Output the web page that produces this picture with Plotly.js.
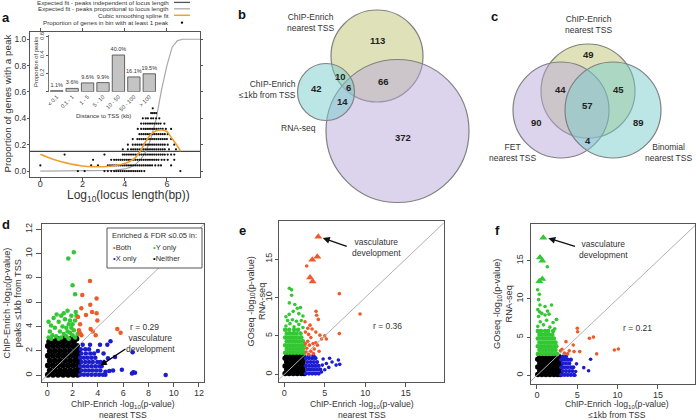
<!DOCTYPE html>
<html><head><meta charset="utf-8">
<script src="https://cdn.plot.ly/plotly-3.0.1.min.js"></script>
<style>html,body{margin:0;padding:0;background:#fff;}#chart{width:696px;height:420px;}</style>
</head><body><div id="chart"></div>
<script>
// ---------------- DATA ----------------
// Panel a: expected fits and spline
const aGrayX = [0, 1, 2, 3, 3.5, 4, 4.25, 4.5, 4.75, 5, 5.25, 5.5, 5.75, 6, 6.25, 6.5, 6.75, 7.6];
const aGrayY = [0, 0, 0, 0.002, 0.005, 0.016, 0.028, 0.049, 0.086, 0.146, 0.25, 0.4, 0.62, 0.8, 0.94, 0.99, 1.0, 1.0];
const aFlatY = 0.15;
const aOrangeX = [0, 0.5, 1, 1.5, 2, 2.5, 3, 3.5, 4, 4.25, 4.5, 4.75, 5, 5.25, 5.5, 5.75, 6, 6.25, 6.5, 6.65];
const aOrangeY = [0.127, 0.095, 0.07, 0.052, 0.038, 0.033, 0.033, 0.04, 0.058, 0.075, 0.1, 0.155, 0.225, 0.28, 0.305, 0.312, 0.3, 0.245, 0.19, 0.15];
// Panel a: proportion of genes in bin with >=1 peak (rows of bins)
const aRowY = [0, 0.043, 0.085, 0.125, 0.165, 0.2, 0.243, 0.28, 0.32, 0.36, 0.4, 0.44, 0.476];
const aRowX = [
 [1.78, 2.1, 3.04, 3.2, 3.36, 3.5, 3.6, 3.7, 3.8, 3.9, 4.0, 4.1, 4.2, 4.3, 4.4, 4.5, 4.6, 4.7, 4.8, 4.93, 6.64],
 [0, 2.41, 2.73, 3.2, 3.3, 3.4, 3.5, 3.6, 3.7, 3.8, 3.9, 4.0, 4.1, 4.2, 4.3, 4.4, 4.5, 4.6, 4.7, 4.8, 4.9, 5.0, 5.1, 5.2, 5.3, 5.45, 5.6, 5.72, 6.2],
 [2.5, 3.36, 3.5, 3.6, 3.7, 3.8, 3.9, 4.0, 4.1, 4.2, 4.3, 4.4, 4.5, 4.6, 4.7, 4.8, 4.9, 5.0, 5.1, 5.2, 5.3, 5.4, 5.5, 5.6, 5.75, 5.88, 6.04, 6.35],
 [1.15, 3.04, 3.91, 4.0, 4.1, 4.2, 4.3, 4.4, 4.5, 4.6, 4.7, 4.8, 4.9, 5.0, 5.1, 5.2, 5.3, 5.4, 5.5, 5.6, 5.7, 5.8, 5.9, 6.04, 6.2, 6.35],
 [3.91, 4.15, 4.3, 4.4, 4.5, 4.6, 4.7, 4.8, 4.9, 5.0, 5.1, 5.2, 5.3, 5.4, 5.5, 5.6, 5.7, 5.8, 5.9, 6.1, 6.43],
 [4.15, 4.38, 4.5, 4.6, 4.7, 4.8, 4.9, 5.0, 5.1, 5.2, 5.3, 5.4, 5.5, 5.6, 5.7, 5.8, 5.9, 6.04, 6.35],
 [4.38, 4.6, 4.7, 4.8, 4.9, 5.0, 5.1, 5.2, 5.3, 5.4, 5.5, 5.6, 5.7, 5.8, 5.9, 6.0, 6.2],
 [4.7, 4.8, 4.9, 5.0, 5.1, 5.2, 5.3, 5.4, 5.5, 5.6, 5.7, 5.8, 5.9, 6.04],
 [4.62, 4.78, 4.9, 5.0, 5.1, 5.2, 5.3, 5.4, 5.5, 5.6, 5.7, 5.8, 5.95, 6.2],
 [4.78, 4.9, 5.0, 5.1, 5.2, 5.3, 5.4, 5.5, 5.6, 5.7, 5.88],
 [4.86, 5.0, 5.1, 5.25, 5.35, 5.49, 5.64],
 [5.25, 5.33, 5.41, 5.49],
 [5.33]
];
// Panel a inset
const insetCats = ["< 0.1", "0.1 - 1", "1 - 5", "5 - 10", "10 - 50", "50 - 100", "> 100"];
const insetVals = [0.011, 0.036, 0.096, 0.099, 0.400, 0.161, 0.195];
const insetLabels = ["1.1%", "3.6%", "9.6%", "9.9%", "40.0%", "16.1%", "19.5%"];

// Panel b Venn (layout units)
const vennBNames = ["ChIP-Enrich nearest TSS", "RNA-seq", "ChIP-Enrich ≤1kb from TSS"];
const vennBcx = [377, 397.5, 326];
const vennBcy = [56, 131, 92];
const vennBr = [46, 71.5, 28.5];
const vennBCounts = ["113", "66", "10", "6", "42", "14", "372"];
const vennBCx = [377, 383, 340, 348, 316, 342, 403];
const vennBCy = [40, 81, 76, 87, 88, 101, 137];
// Panel c Venn
const vennCNames = ["ChIP-Enrich nearest TSS", "FET nearest TSS", "Binomial nearest TSS"];
const vennCcx = [588, 561, 613];
const vennCcy = [91, 110, 110];
const vennCr = [47, 48, 48];
const vennCCounts = ["49", "44", "45", "57", "90", "89", "4"];
const vennCCx = [588, 560, 618, 587, 536, 638, 588];
const vennCCy = [54, 89, 89, 105, 122, 122, 140];

// Panel d: x = nearest TSS, y = peaks <=1kb
const dBlackRowY = [0.05, 0.4, 0.8, 1.2, 1.6, 2.0, 2.4, 2.75, 3.0];
const dBlackRowX = [
 [0.05, 0.45, 0.85, 1.25, 1.65, 2.05, 2.4],
 [0.2, 0.6, 1.0, 1.4, 1.8, 2.2, 2.5],
 [0.05, 0.45, 0.85, 1.25, 1.65, 2.05, 2.45],
 [0.2, 0.6, 1.0, 1.4, 1.8, 2.2, 2.5],
 [0.05, 0.45, 0.85, 1.25, 1.65, 2.05, 2.4],
 [0.2, 0.6, 1.0, 1.4, 1.8, 2.2, 2.45],
 [0.05, 0.45, 0.85, 1.25, 1.65, 2.05, 2.35],
 [0.15, 0.5, 0.9, 1.3, 1.7, 2.1],
 [0.8, 1.3, 1.9, 2.3]
];
const dBlueRowY = [0.05, 0.4, 0.75, 1.1, 1.45, 1.8, 2.15, 2.5];
const dBlueRowX = [
 [2.6, 2.9, 3.2, 3.5, 3.8, 4.1, 4.4, 4.6],
 [2.7, 3.0, 3.3, 3.6, 3.9, 4.2],
 [2.6, 2.9, 3.2, 3.5, 3.8, 4.1, 4.3],
 [2.7, 3.0, 3.3, 3.6, 3.95, 4.2],
 [2.6, 2.9, 3.2, 3.5, 3.8],
 [2.7, 3.05, 3.4, 3.7, 4.45],
 [2.65, 3.0, 3.3],
 [2.8, 3.38, 4.17]
];
const dBlueOut = [[4.75,2.5],[5.0,2.8],[5.36,1.5],[4.49,1.07],[4.9,0.35],[5.2,0.4],[5.9,0.45],[6.7,0.15],[6.8,0.25],[6.94,0.2],[6.75,1.9],[9.37,0.03],[4.6,0.3],[4.8,1.4],[4.0,2.0]];
const dGreen = [[1.66,9.6],[2.1,10.1],[2.0,7.4],[2.2,6.65],[0.74,5.0],[1.1,4.9],[1.9,4.9],[2.3,4.9],[0.1,4.4],[0.1,3.1],[0.2,3.6],[0.3,4.1],[0.4,3.3],[0.6,3.9],[0.7,3.2],[0.9,4.4],[1.0,3.6],[1.1,3.1],[1.2,4.0],[1.3,3.4],[1.4,4.6],[1.5,3.9],[1.5,3.2],[1.6,3.6],[1.7,4.2],[1.7,3.0],[1.8,4.5],[1.8,3.5],[1.9,3.9],[2.0,3.3],[2.0,4.2],[2.1,3.7],[2.2,3.1],[2.2,4.5],[1.6,5.3],[2.25,5.2],[0.5,4.7],[1.3,5.1],[0.9,3.0],[2.4,3.4],[0.3,3.0]];
const dRed = [[3.38,7.75],[2.77,6.6],[3.9,6.3],[3.4,5.8],[2.69,5.5],[2.43,4.8],[3.06,4.95],[3.54,5.2],[3.9,5.1],[3.96,4.5],[2.59,4.2],[2.5,3.7],[2.59,3.45],[3.43,3.8],[3.6,3.6],[3.83,3.3],[5.54,3.8],[5.8,3.5],[2.7,3.3]];

// Panel e: x = nearest TSS, y = RNA-seq
const eBlackRowY = [0.1, 0.6, 1.1, 1.6, 2.1, 2.45];
const eBlackRowX = [
 [0.1, 0.6, 1.1, 1.6, 2.1, 2.45],
 [0.3, 0.8, 1.3, 1.8, 2.3],
 [0.1, 0.6, 1.1, 1.6, 2.1, 2.45],
 [0.3, 0.8, 1.3, 1.8, 2.3],
 [0.1, 0.6, 1.1, 1.6, 2.1, 2.45],
 [0.3, 0.8, 1.3, 1.8, 2.3]
];
const eGreenRowY = [2.8, 3.3, 3.8, 4.3, 4.8, 5.3, 5.8];
const eGreenRowX = [
 [0.1, 0.5, 0.9, 1.3, 1.7, 2.1, 2.45],
 [0.3, 0.7, 1.1, 1.5, 1.9, 2.3],
 [0.1, 0.5, 0.9, 1.3, 1.7, 2.1, 2.45],
 [0.3, 0.7, 1.1, 1.5, 1.9, 2.3],
 [0.1, 0.5, 0.9, 1.3, 1.7, 2.1],
 [0.3, 0.7, 1.1, 1.5, 2.0],
 [0.1, 0.6, 1.2, 1.7]
];
const eGreenOut = [[0.2,6.3],[0.7,6.6],[1.2,6.2],[1.8,6.5],[2.3,6.1],[0.4,7.0],[1.0,7.1],[1.5,6.9],[2.1,7.0],[0.62,11.2],[0.9,11.0],[0.9,10.3],[0.62,9.3],[1.3,9.1],[1.6,8.6],[2.0,8.7],[1.1,8.2],[0.6,7.8],[1.8,7.9],[2.3,7.6],[0.2,7.5]];
const eBlueRowY = [0.1, 0.6, 1.1, 1.6, 2.1, 2.45];
const eBlueRowX = [
 [2.65, 3.05, 3.45, 3.85, 4.25],
 [2.85, 3.25, 3.65, 4.05, 4.45],
 [2.65, 3.05, 3.45, 3.85, 4.25],
 [2.85, 3.25, 3.65, 4.05],
 [2.65, 3.05, 3.45, 3.85],
 [3.0, 3.6]
];
const eBlueOut = [[6.68,1.86],[6.85,1.3],[6.4,1.2],[5.9,1.6],[5.6,2.1],[5.2,1.4],[4.8,2.0],[4.7,1.2],[5.0,0.6],[4.6,0.3],[5.5,0.9]];
const eRed = [[2.77,14.1],[6.8,10.5],[9.36,7.85],[6.8,5.3],[3.92,8.2],[4.0,7.7],[4.2,7.15],[2.56,6.85],[3.18,6.4],[3.43,5.9],[3.9,5.5],[4.4,5.1],[4.6,4.6],[3.28,4.8],[2.9,4.3],[3.55,4.0],[3.9,4.1],[2.77,3.4],[3.28,3.0],[3.7,3.3],[3.1,3.8],[2.7,2.9],[3.6,2.7],[4.1,3.8],[5.0,5.0],[5.2,4.6],[2.6,5.5],[3.0,5.2],[2.6,4.0],[4.3,3.0],[3.0,2.6],[2.9,6.0]];
const eRedTri = [[4.2,17.9],[4.08,15.3],[3.46,14.9],[3.18,12.6],[3.5,12.1]];

// Panel f: x = <=1kb, y = RNA-seq
const fBlackRowY = [0.1, 0.6, 1.1, 1.6, 2.1, 2.45];
const fBlackRowX = [
 [0.1, 0.6, 1.1, 1.6, 2.1, 2.55, 2.9],
 [0.35, 0.85, 1.35, 1.85, 2.35, 2.8],
 [0.1, 0.6, 1.1, 1.6, 2.1, 2.55, 2.9],
 [0.35, 0.85, 1.35, 1.85, 2.35, 2.8],
 [0.1, 0.6, 1.1, 1.6, 2.1, 2.55, 2.9],
 [0.35, 0.85, 1.35, 1.85, 2.35, 2.7]
];
const fGreenRowY = [2.8, 3.3, 3.8, 4.3, 4.8, 5.3, 5.8];
const fGreenRowX = [
 [0.1, 0.5, 0.9, 1.3, 1.7, 2.1, 2.5],
 [0.3, 0.7, 1.1, 1.5, 1.9, 2.3],
 [0.1, 0.5, 0.9, 1.3, 1.7, 2.1, 2.4],
 [0.3, 0.7, 1.1, 1.5, 1.9, 2.3],
 [0.1, 0.5, 0.9, 1.3, 1.7, 2.1],
 [0.3, 0.7, 1.1, 1.5, 1.9],
 [0.1, 0.5, 1.0, 1.4, 2.0]
];
const fGreenOut = [[0.1,6.4],[0.4,7.0],[0.8,6.6],[1.2,7.2],[1.6,6.3],[2.0,6.9],[0.2,7.7],[0.6,8.1],[1.0,7.9],[1.5,8.0],[2.4,7.3],[0.3,8.3],[2.2,6.1],[1.28,14.2],[0.08,11.2],[0.29,10.6],[0.2,9.9],[0.37,9.2],[1.8,9.2],[1.0,9.0],[2.44,7.3],[0.1,8.6],[1.3,8.4]];
const fGreenTri = [[0.78,18.0],[0.37,15.4],[0.66,15.0],[0.29,12.3],[0.66,12.6]];
const fBlueRowY = [0.05, 0.55, 1.05, 1.55, 2.05, 2.45];
const fBlueRowX = [
 [3.0, 3.4, 3.8, 4.2, 4.6],
 [3.2, 3.6, 4.0, 4.4],
 [3.0, 3.4, 3.8, 4.2, 4.5],
 [3.2, 3.6, 4.0],
 [3.0, 3.4, 3.8, 4.2],
 [3.2, 3.6]
];
const fBlueOut = [[6.65,2.1],[5.8,1.0],[6.4,0.6],[4.7,0.0],[4.8,0.5],[4.9,1.5]];
const fRed = [[5.0,6.15],[5.04,5.7],[6.5,4.85],[7.0,5.0],[4.5,3.97],[3.6,4.4],[3.1,3.4],[4.0,3.2],[4.6,3.1],[5.3,3.1],[7.4,2.8],[9.6,3.3],[10.1,3.45],[3.4,2.9],[2.9,3.2],[3.8,2.8]];

const diagXY = [-2, 25];

// ---------------- DRAW ----------------
const W = 696, H = 420;
const FONT = 'Liberation Sans, Arial, Helvetica, sans-serif';
const TXT = '#333';
const redC = '#ef5a28', greenC = '#33c733', blueC = '#1c1ccf';
function dx(l, r) { return [l / W, r / W]; }
function dy(t, b) { return [1 - b / H, 1 - t / H]; }
function flat(rowsY, rowsX) { const x = [], y = []; rowsY.forEach((yy, i) => rowsX[i].forEach(xx => { x.push(xx); y.push(yy); })); return {x, y}; }
function pairs(p) { return {x: p.map(q => q[0]), y: p.map(q => q[1])}; }
function sc(d, ax, color, size, symbol) {
  return {type: 'scatter', mode: 'markers', x: d.x, y: d.y, xaxis: 'x' + ax, yaxis: 'y' + ax,
    marker: {color: color, size: size, symbol: symbol || 'circle', line: {width: 0}}, hoverinfo: 'skip'};
}
function diag(ax) { return {type: 'scatter', mode: 'lines', x: diagXY, y: diagXY, xaxis: 'x' + ax, yaxis: 'y' + ax, line: {color: '#b0b0b0', width: 1}, hoverinfo: 'skip'}; }

const traces = [];
// panel a
traces.push({type: 'scatter', mode: 'lines', x: aGrayX, y: aGrayY, xaxis: 'x', yaxis: 'y', line: {color: '#a8a8a8', width: 1.2}, hoverinfo: 'skip'});
traces.push(sc(flat(aRowY, aRowX), '', '#111', 2.2));
traces.push({type: 'scatter', mode: 'lines', x: aOrangeX, y: aOrangeY, xaxis: 'x', yaxis: 'y', line: {color: '#f0a030', width: 1.6, shape: 'spline'}, hoverinfo: 'skip'});
// inset
traces.push({type: 'bar', x: insetCats, y: insetVals, xaxis: 'x2', yaxis: 'y2', marker: {color: '#c4c4c4', line: {color: '#444', width: 0.8}},
  text: insetLabels, textposition: 'outside', constraintext: 'none', cliponaxis: false, textfont: {size: 5.5, color: TXT, family: FONT}, hoverinfo: 'skip'});
// panel d
traces.push(sc(flat(dBlackRowY, dBlackRowX), '4', '#000', 6));
traces.push(sc(flat(dBlueRowY, dBlueRowX), '4', blueC, 4.5));
traces.push(sc(pairs(dBlueOut), '4', blueC, 4.5));
traces.push(sc(pairs(dGreen), '4', greenC, 4.5));
traces.push(sc(pairs(dRed), '4', redC, 4.5));
traces.push(diag('4'));
// panel e
traces.push(sc(flat(eBlackRowY, eBlackRowX), '5', '#000', 5.5));
traces.push(sc(flat(eGreenRowY, eGreenRowX), '5', greenC, 4.5));
traces.push(sc(pairs(eGreenOut), '5', greenC, 3.6));
traces.push(sc(flat(eBlueRowY, eBlueRowX), '5', blueC, 4.2));
traces.push(sc(pairs(eBlueOut), '5', blueC, 3.6));
traces.push(sc(pairs(eRed), '5', redC, 3.6));
traces.push(sc(pairs(eRedTri), '5', redC, 7, 'triangle-up'));
traces.push(diag('5'));
// panel f
traces.push(sc(flat(fBlackRowY, fBlackRowX), '6', '#000', 5.5));
traces.push(sc(flat(fGreenRowY, fGreenRowX), '6', greenC, 4.5));
traces.push(sc(pairs(fGreenOut), '6', greenC, 3.6));
traces.push(sc(pairs(fGreenTri), '6', greenC, 7, 'triangle-up'));
traces.push(sc(flat(fBlueRowY, fBlueRowX), '6', blueC, 4.2));
traces.push(sc(pairs(fBlueOut), '6', blueC, 3.6));
traces.push(sc(pairs(fRed), '6', redC, 3.6));
traces.push(diag('6'));

// axes
const baseAx = {showgrid: false, zeroline: false, showline: true, mirror: true, linecolor: '#555', linewidth: 1,
  ticks: 'outside', ticklen: 4, tickcolor: '#555', tickfont: {family: FONT, size: 9, color: TXT}, fixedrange: true};
function ax(o) { return Object.assign({}, baseAx, o); }

const layout = {
  width: W, height: H, margin: {l: 0, r: 0, t: 0, b: 0}, showlegend: false,
  paper_bgcolor: '#fff', plot_bgcolor: 'rgba(0,0,0,0)', font: {family: FONT, color: TXT},
  xaxis: ax({domain: dx(30, 200), range: [-0.49, 7.57], anchor: 'y', tickvals: [0, 2, 4, 6], mirror: 'ticks', ticklen: 3, ticklabelstandoff: -5}),
  yaxis: ax({domain: dy(32, 177), range: [-0.045, 1.055], anchor: 'x', tickvals: [0, 0.2, 0.4, 0.6, 0.8, 1.0], tickformat: '.1f', mirror: 'ticks', ticklen: 2,
    ticklabelstandoff: -1, tickfont: {family: FONT, size: 8.5, color: TXT}}),
  xaxis2: {domain: dx(49, 157), anchor: 'y2', type: 'category', range: [-0.5, 6.5], showline: false, ticks: '', showgrid: false, zeroline: false,
    tickangle: -45, tickfont: {family: FONT, size: 5.5, color: TXT}, fixedrange: true},
  yaxis2: {domain: dy(35, 91.7), anchor: 'x2', range: [0, 0.618], tickvals: [0, 0.2, 0.4, 0.6], ticktext: ['', '0.2', '0.4', '0.6'],
    tickangle: -90, showline: true, linecolor: '#555', linewidth: 0.8, ticks: 'outside', ticklen: 2, tickcolor: '#555', showgrid: false, zeroline: false,
    tickfont: {family: FONT, size: 5.5, color: TXT}, fixedrange: true},
  xaxis3: {domain: dx(230, 696), range: [230, 696], anchor: 'y3', visible: false, fixedrange: true},
  yaxis3: {domain: dy(0, 205), range: [205, 0], anchor: 'x3', visible: false, fixedrange: true},
  xaxis4: ax({domain: dx(42, 204), range: [-0.42, 12.4], anchor: 'y4', tickvals: [0, 2, 4, 6, 8, 10, 12], ticklen: 4, ticklabelstandoff: -2}),
  yaxis4: ax({domain: dy(224, 382), range: [-0.55, 12.43], anchor: 'x4', tickvals: [0, 2, 4, 6, 8, 10, 12], tickangle: -90, ticklen: 5}),
  xaxis5: ax({domain: dx(279.3, 443.7), range: [-0.62, 19.7], anchor: 'y5', tickvals: [0, 5, 10, 15], ticklen: 4, ticklabelstandoff: -2}),
  yaxis5: ax({domain: dy(220.7, 381.7), range: [-0.96, 20.0], anchor: 'x5', tickvals: [0, 5, 10, 15], tickangle: -90, ticklen: 3}),
  xaxis6: ax({domain: dx(530.7, 695), range: [-0.78, 19.6], anchor: 'y6', tickvals: [0, 5, 10, 15], ticklen: 4, ticklabelstandoff: -2}),
  yaxis6: ax({domain: dy(224, 384), range: [-1.14, 19.8], anchor: 'x6', tickvals: [0, 5, 10, 15], tickangle: -90, ticklen: 3}),
  shapes: [], annotations: []
};

// panel a flat expected line
layout.shapes.push({type: 'line', xref: 'x domain', yref: 'y', x0: 0, x1: 1, y0: aFlatY, y1: aFlatY, line: {color: '#444', width: 1.3}, layer: 'below'});

// venn circles
const vennFill = {
  'ChIP-Enrich nearest TSS': 'rgba(191,197,115,0.5)',
  'RNA-seq': 'rgba(185,167,217,0.5)',
  'FET nearest TSS': 'rgba(185,167,217,0.5)',
  'ChIP-Enrich ≤1kb from TSS': 'rgba(121,205,205,0.5)',
  'Binomial nearest TSS': 'rgba(121,205,205,0.5)'
};
function venn(names, cx, cy, r) {
  names.forEach((n, i) => layout.shapes.push({type: 'circle', xref: 'x3', yref: 'y3', x0: cx[i] - r[i], x1: cx[i] + r[i], y0: cy[i] - r[i], y1: cy[i] + r[i],
    fillcolor: vennFill[n], line: {color: '#808080', width: 1.2}, layer: 'above'}));
}
venn(vennBNames, vennBcx, vennBcy, vennBr);
venn(vennCNames, vennCcx, vennCcy, vennCr);

function A(text, xp, yp, o) {
  const base = {text: text, x: xp / W, y: 1 - yp / H, xref: 'paper', yref: 'paper', showarrow: false, xanchor: 'center', yanchor: 'middle',
    font: {family: FONT, size: 9, color: TXT}};
  return Object.assign(base, o || {});
}
function F(size, extra) { return Object.assign({family: FONT, size: size, color: TXT}, extra || {}); }
const ann = layout.annotations;

// venn counts and labels
vennBCounts.forEach((t, i) => ann.push({text: '<b>' + t + '</b>', x: vennBCx[i], y: vennBCy[i], xref: 'x3', yref: 'y3', showarrow: false, font: F(9.5, {color: '#222'})}));
vennCCounts.forEach((t, i) => ann.push({text: '<b>' + t + '</b>', x: vennCCx[i], y: vennCCy[i], xref: 'x3', yref: 'y3', showarrow: false, font: F(9.5, {color: '#222'})}));
ann.push(A('ChIP-Enrich<br>nearest TSS', 310, 22, {font: F(8.5)}));
ann.push(A('ChIP-Enrich<br>≤1kb from TSS', 297.5, 89, {xanchor: 'right', align: 'right', font: F(8.5)}));
ann.push(A('RNA-seq', 298, 128, {font: F(8.5)}));
ann.push(A('ChIP-Enrich<br>nearest TSS', 588, 24, {font: F(8.5)}));
ann.push(A('FET<br>nearest TSS', 512, 152, {font: F(8.5)}));
ann.push(A('Binomial<br>nearest TSS', 668, 152, {font: F(8.5)}));

// panel letters
[['a', 6, 18], ['b', 242, 15], ['c', 495, 17], ['d', 6, 224], ['e', 242, 230], ['f', 497, 230]].forEach(p =>
  ann.push(A('<b>' + p[0] + '</b>', p[1], p[2], {font: F(13, {color: '#111'})})));

// panel a titles and legend
ann.push(A('Proportion of genes with a peak', 6.5, 104, {textangle: -90, font: F(9.8)}));
ann.push(A('Log<sub>10</sub>(locus length(bp))', 128, 196, {font: F(12)}));
const aLegText = ['Expected fit - peaks independent of locus length', 'Expected fit - peaks proportional to locus length', 'Cubic smoothing spline fit', 'Proportion of genes in bin with at least 1 peak'];
const aLegY = [2.4, 8.8, 15.3, 22.6];
aLegText.forEach((t, i) => ann.push(A(t, 171, aLegY[i], {xanchor: 'right', font: F(6.2)})));
const legLine = [['#555', 1.3], ['#aaa', 1.3], ['#f0a030', 1.5]];
legLine.forEach((c, i) => layout.shapes.push({type: 'line', xref: 'paper', yref: 'paper', x0: 174 / W, x1: 190 / W, y0: 1 - aLegY[i] / H, y1: 1 - aLegY[i] / H, line: {color: c[0], width: c[1]}}));
layout.shapes.push({type: 'circle', xref: 'paper', yref: 'paper', x0: 180.8 / W, x1: 183.2 / W, y0: 1 - 23.8 / H, y1: 1 - 21.4 / H, fillcolor: '#000', line: {width: 0}});
// inset titles
ann.push(A('Proportion of peaks', 36, 62, {textangle: -90, font: F(5.8)}));
ann.push(A('Distance to TSS (kb)', 103, 115.5, {font: F(6)}));

// panel d titles & legend
const XT_Y = 409.3, XT_F = 8.6;
ann.push(A('ChIP-Enrich -log<sub>10</sub>(p-value)<br>nearest TSS', 123, XT_Y, {font: F(XT_F)}));
ann.push(A('ChIP-Enrich -log<sub>10</sub>(p-value)<br>peaks ≤1kb from TSS', 12.5, 303, {textangle: -90, font: F(9.2)}));
layout.shapes.push({type: 'rect', xref: 'paper', yref: 'paper', x0: 107 / W, x1: 202 / W, y0: 1 - 268 / H, y1: 1 - 228 / H, fillcolor: '#fff', line: {color: '#555', width: 1}, layer: 'above'});
ann.push(A('Enriched &amp; FDR ≤0.05 in:', 154, 235.5, {font: F(7.5)}));
ann.push(A('<span style="color:' + redC + '">•</span>Both', 111, 247.5, {xanchor: 'left', font: F(7.5)}));
ann.push(A('<span style="color:' + greenC + '">•</span>Y only', 151, 247.5, {xanchor: 'left', font: F(7.5)}));
ann.push(A('<span style="color:' + blueC + '">•</span>X only', 111, 258.5, {xanchor: 'left', font: F(7.5)}));
ann.push(A('<span style="color:#000">•</span>Neither', 151, 258.5, {xanchor: 'left', font: F(7.5)}));
ann.push({text: 'r = 0.29', x: 7.73, y: 3.95, xref: 'x4', yref: 'y4', showarrow: false, font: F(8.5)});
ann.push({text: 'vasculature<br>development', x: 8.2, y: 2.6, xref: 'x4', yref: 'y4', showarrow: false, font: F(8.5)});
ann.push({text: '', x: 4.2, y: 0.8, ax: 6.3, ay: 2.25, xref: 'x4', yref: 'y4', axref: 'x4', ayref: 'y4', showarrow: true, arrowhead: 2, arrowsize: 1, arrowwidth: 1.3, arrowcolor: '#000'});

// panel e titles
ann.push(A('ChIP-Enrich -log<sub>10</sub>(p-value)<br>nearest TSS', 362, XT_Y, {font: F(XT_F)}));
ann.push(A('GOseq -log<sub>10</sub>(p-value)<br>RNA-seq', 256.5, 302, {textangle: -90, font: F(9.2)}));
ann.push({text: 'r = 0.36', x: 12.7, y: 6.3, xref: 'x5', yref: 'y5', showarrow: false, font: F(8.5)});
ann.push({text: 'vasculature<br>development', x: 11.4, y: 16.5, xref: 'x5', yref: 'y5', showarrow: false, font: F(8.5)});
ann.push({text: '', x: 4.75, y: 17.75, ax: 7.9, ay: 16.6, xref: 'x5', yref: 'y5', axref: 'x5', ayref: 'y5', showarrow: true, arrowhead: 2, arrowsize: 1, arrowwidth: 1.4, arrowcolor: '#111'});

// panel f titles
ann.push(A('ChIP-Enrich -log<sub>10</sub>(p-value)<br>≤1kb from TSS', 617, XT_Y, {font: F(XT_F)}));
ann.push(A('GOseq -log<sub>10</sub>(p-value)<br>RNA-seq', 503, 304, {textangle: -90, font: F(9.2)}));
ann.push({text: 'r = 0.21', x: 12.5, y: 6.2, xref: 'x6', yref: 'y6', showarrow: false, font: F(8.5)});
ann.push({text: 'vasculature<br>development', x: 8.3, y: 16.5, xref: 'x6', yref: 'y6', showarrow: false, font: F(8.5)});
ann.push({text: '', x: 1.4, y: 17.95, ax: 4.9, ay: 16.8, xref: 'x6', yref: 'y6', axref: 'x6', ayref: 'y6', showarrow: true, arrowhead: 2, arrowsize: 1, arrowwidth: 1.4, arrowcolor: '#111'});

Plotly.newPlot('chart', traces, layout, {staticPlot: true, displayModeBar: false});
</script></body></html>
